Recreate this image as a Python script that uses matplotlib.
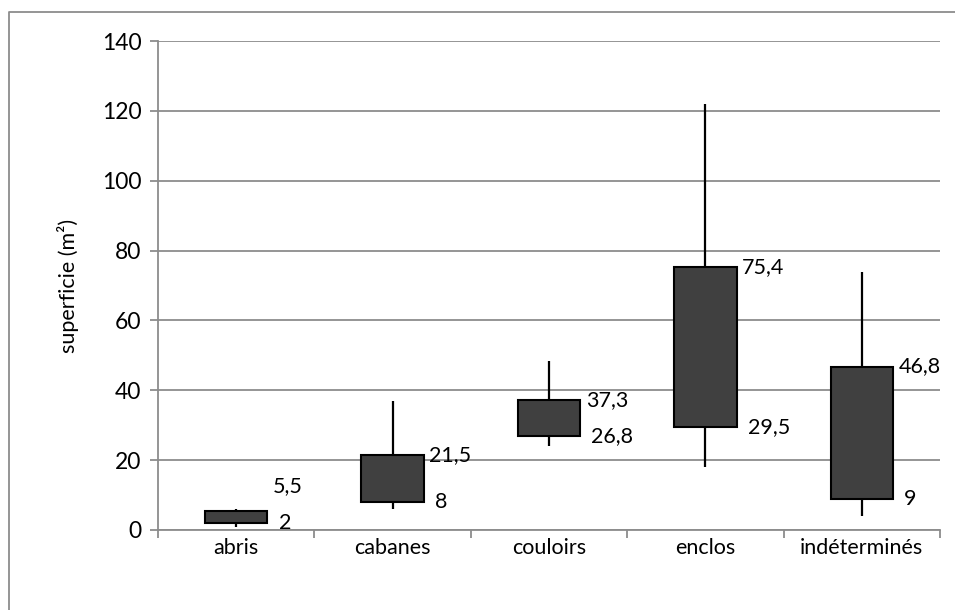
import numpy as np
import matplotlib.pyplot as plt
from matplotlib.lines import Line2D

plt.rcParams['font.family'] = ['Lato', 'DejaVu Sans']

categories = ["abris", "cabanes", "couloirs", "enclos", "indéterminés"]
low = [1, 6, 24, 18, 4]
q1 = [2, 8, 26.8, 29.5, 9]
q3 = [5.5, 21.5, 37.3, 75.4, 46.8]
high = [6, 37, 48.4, 122, 74]
q1_labels = ["2", "8", "26,8", "29,5", "9"]
q3_labels = ["5,5", "21,5", "37,3", "75,4", "46,8"]

fig = plt.figure(figsize=(9.55, 6.1), dpi=100)
ax = fig.add_axes([158/955, 1-530/610, (940-158)/955, (530-41)/610])

grey = "#8c8c8c"
x = np.arange(len(categories))
w = 0.4

ax.vlines(x, low, high, color="black", lw=1.6, zorder=2)
ax.bar(x, np.array(q3) - np.array(q1), bottom=q1, width=w,
       color="#404040", edgecolor="black", lw=1.5, zorder=3)

for i in range(len(categories)):
    # upper label, abris is pushed up to avoid overlap with the box
    dy = 18 if i == 0 else 0
    ax.annotate(q3_labels[i], (x[i] + w/2, q3[i]), xytext=(4, dy),
                textcoords="offset points", ha="left", va="center", fontsize=15.5)
    ax.annotate(q1_labels[i], (x[i] + w/2, q1[i]), xytext=(8, 0),
                textcoords="offset points", ha="left", va="center", fontsize=15.5)

ax.set_xlim(-0.5, len(categories) - 0.5)
ax.set_ylim(0, 140)
ax.set_yticks(np.arange(0, 141, 20))
ax.yaxis.grid(True, color=grey, lw=1.3)
ax.set_axisbelow(True)

ax.set_xticks(x)
ax.set_xticklabels(categories)
ax.set_xticks(np.arange(-0.5, len(categories)), minor=True)
ax.tick_params(axis="x", which="major", length=0, pad=6, labelsize=15.5)
ax.tick_params(axis="x", which="minor", length=6, width=1.3, color=grey)
ax.tick_params(axis="y", length=6, width=1.3, color=grey, pad=6, labelsize=16.5)

for s in ["top", "right"]:
    ax.spines[s].set_visible(False)
for s in ["left", "bottom"]:
    ax.spines[s].set_color(grey)
    ax.spines[s].set_linewidth(1.3)

ax.set_ylabel("superficie (m²)", fontsize=15.5, labelpad=16)

# outer chart border, only its left and top edges fall inside the picture
fig.lines.append(Line2D([9/955, 9/955, 1.0], [0.0, 1-12/610, 1-12/610],
                        transform=fig.transFigure, color=grey, lw=1.3))

fig.savefig("out.png", dpi=100)
